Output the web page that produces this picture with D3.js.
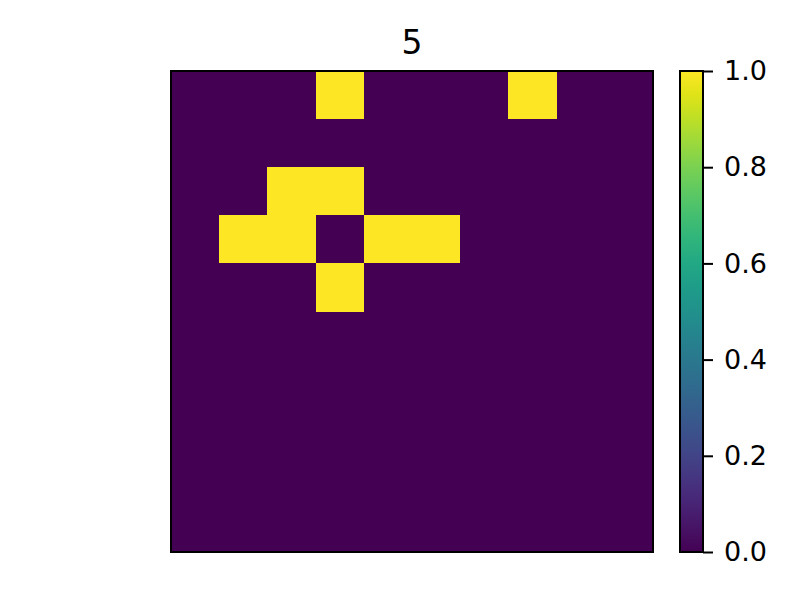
<!DOCTYPE html>
<html><head><meta charset="utf-8">
<script src="https://cdn.jsdelivr.net/npm/d3@7"></script>
<style>body{margin:0;background:#fff}</style>
</head><body>
<svg id="c" width="800" height="600"></svg>
<script>
const title = "5";
const rows = [0,1,2,3,4,5,6,7,8,9];
const cols = [0,1,2,3,4,5,6,7,8,9];
const grid = [
  [0,0,0,1,0,0,0,1,0,0],
  [0,0,0,0,0,0,0,0,0,0],
  [0,0,1,1,0,0,0,0,0,0],
  [0,1,1,0,1,1,0,0,0,0],
  [0,0,0,1,0,0,0,0,0,0],
  [0,0,0,0,0,0,0,0,0,0],
  [0,0,0,0,0,0,0,0,0,0],
  [0,0,0,0,0,0,0,0,0,0],
  [0,0,0,0,0,0,0,0,0,0],
  [0,0,0,0,0,0,0,0,0,0]
];
const cbTicks = [0.0,0.2,0.4,0.6,0.8,1.0];

const svg = d3.select("#c");
const L=171, T=71, W=482, H=481;
const x = d3.scaleBand().domain(cols).range([L, L+W]).padding(0);
const y = d3.scaleBand().domain(rows).range([T, T+H]).padding(0);
const color = d3.scaleSequential(d3.interpolateViridis).domain([0,1]);

const cells = [];
grid.forEach((r,i)=>r.forEach((v,j)=>cells.push({i,j,v})));
svg.append("g").selectAll("rect").data(cells).join("rect")
  .attr("x",d=>x(d.j)).attr("y",d=>y(d.i))
  .attr("width",x.bandwidth()+0.5).attr("height",y.bandwidth()+0.5)
  .attr("fill",d=>color(d.v)).attr("shape-rendering","crispEdges");
svg.append("rect").attr("x",L).attr("y",T).attr("width",W).attr("height",H)
  .attr("fill","none").attr("stroke","#000").attr("stroke-width",2);

svg.append("text").attr("x",L+W/2).attr("y",54).attr("text-anchor","middle")
  .attr("font-family","DejaVu Sans").style("font-size","33px").text(title);

// colorbar
const cbL=680, cbW=23;
const cy = d3.scaleLinear().domain([0,1]).range([T+H, T]);
const defs = svg.append("defs");
const lg = defs.append("linearGradient").attr("id","vg").attr("x1",0).attr("y1",1).attr("x2",0).attr("y2",0);
d3.range(0,1.0001,0.05).forEach(t=>lg.append("stop").attr("offset",t).attr("stop-color",color(t)));
svg.append("rect").attr("x",cbL).attr("y",T).attr("width",cbW).attr("height",H).attr("fill","url(#vg)");
svg.append("rect").attr("x",cbL).attr("y",T).attr("width",cbW).attr("height",H)
  .attr("fill","none").attr("stroke","#000").attr("stroke-width",2);
const ax = svg.append("g").attr("transform",`translate(${cbL+cbW},0)`)
  .call(d3.axisRight(cy).tickValues(cbTicks).tickFormat(d3.format(".1f")).tickSize(10).tickPadding(11));
ax.select(".domain").remove();
ax.selectAll("line").attr("stroke","#000").attr("stroke-width",2);
ax.selectAll("text").attr("font-family","DejaVu Sans").style("font-size","27px").attr("fill","#000");
</script>
</body></html>
